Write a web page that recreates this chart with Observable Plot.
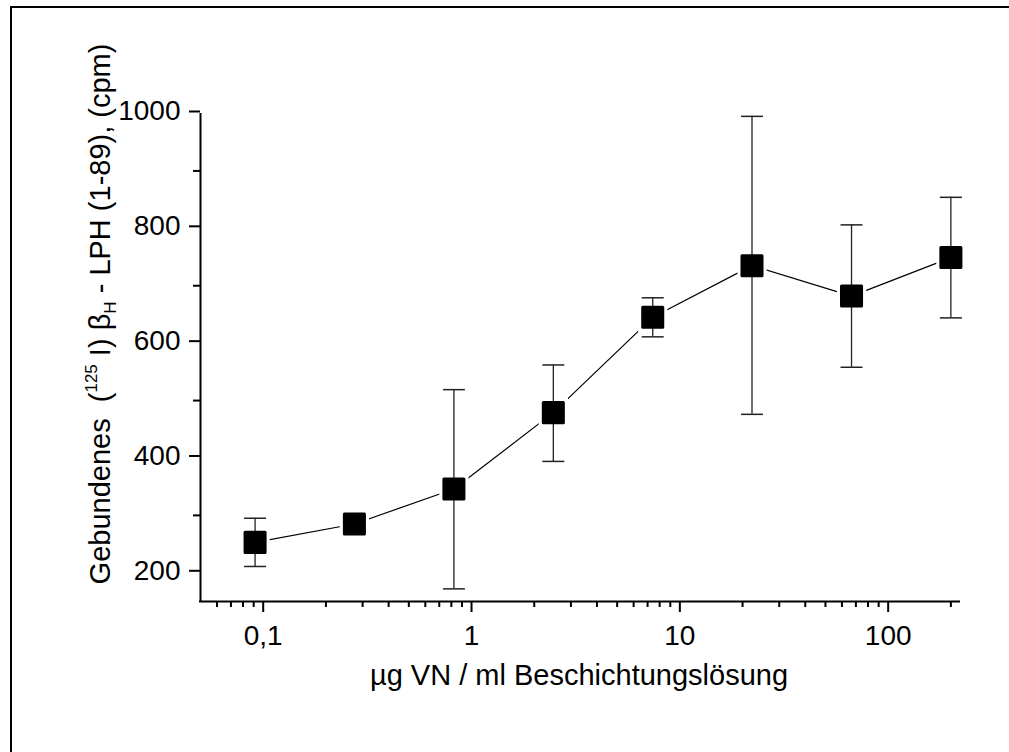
<!DOCTYPE html>
<html><head><meta charset="utf-8">
<script src="https://cdn.jsdelivr.net/npm/d3@7"></script>
<script src="https://cdn.jsdelivr.net/npm/@observablehq/plot@0.6"></script>
<style>html,body{margin:0;padding:0;background:#fff;overflow:hidden}</style>
</head><body><div id="chart"></div>
<script>
// µg VN / ml coating solution (3-fold dilution series)
const concentration = [0.0914, 0.274, 0.823, 2.47, 7.41, 22.2, 66.7, 200];
// bound (125I) beta_H-LPH (1-89), cpm
const bound   = [253, 285, 346, 479, 645, 735, 682, 749];
const errHigh = [295, 297, 519, 562, 679, 995, 806, 854];
const errLow  = [211, 273, 172, 394, 611, 476, 558, 644];

const xMajor = [0.1, 1, 10, 100];
const xMajorLabels = ["0,1", "1", "10", "100"];
const xMinor = [0.06, 0.07, 0.08, 0.09, 0.2, 0.3, 0.4, 0.5, 0.6, 0.7, 0.8, 0.9,
                2, 3, 4, 5, 6, 7, 8, 9, 20, 30, 40, 50, 60, 70, 80, 90, 200];
const yMajor = [200, 400, 600, 800, 1000];
const yMinor = [300, 500, 700, 900];

const xTitle = "µg VN / ml Beschichtungslösung";

const data = concentration.map((c, i) => ({c, v: bound[i], lo: errLow[i], hi: errHigh[i]}));
const capSymbol = {draw(ctx, size) { const r = Math.sqrt(size / Math.PI); ctx.moveTo(-r, 0); ctx.lineTo(r, 0); }};
const font = "'Liberation Sans', Arial, Helvetica, sans-serif";

const plot = Plot.plot({
  width: 1009, height: 752,
  marginLeft: 200, marginRight: 50, marginTop: 113, marginBottom: 151,
  style: {fontFamily: font, background: "white", color: "black", overflow: "visible"},
  x: {type: "log", domain: [0.05, 220]},
  y: {domain: [150, 1000]},
  marks: [
    Plot.axisY({ticks: yMajor, tickSize: 11, tickPadding: 9, tickFormat: d => String(d), fontSize: 28, label: null, strokeWidth: 2, dy: -2}),
    Plot.axisY({ticks: yMinor, tickSize: 7, tickFormat: () => "", label: null, strokeWidth: 2}),
    Plot.axisX({ticks: xMajor, tickSize: 11, tickPadding: 13, tickFormat: d => xMajorLabels[xMajor.indexOf(d)], fontSize: 28, label: null, strokeWidth: 2}),
    Plot.axisX({ticks: xMinor, tickSize: 6, tickFormat: () => "", label: null, strokeWidth: 2}),
    Plot.ruleX([0.05], {y1: 150, y2: 1000, stroke: "black", strokeWidth: 2}),
    Plot.ruleY([150], {x1: 0.05, x2: 220, stroke: "black", strokeWidth: 2, strokeLinecap: "square"}),
    Plot.line(data, {x: "c", y: "v", stroke: "black", strokeWidth: 1.2}),
    Plot.dot(data, {x: "c", y: "v", symbol: "square", r: 16.5, fill: "white"}),
    Plot.ruleX(data, {x: "c", y1: "lo", y2: "hi", stroke: "#222", strokeWidth: 1.3}),
    Plot.dot(data, {x: "c", y: "hi", symbol: capSymbol, r: 11, stroke: "#222", strokeWidth: 1.5, fill: "none"}),
    Plot.dot(data, {x: "c", y: "lo", symbol: capSymbol, r: 11, stroke: "#222", strokeWidth: 1.5, fill: "none"}),
    Plot.dot(data, {x: "c", y: "v", symbol: "square", r: 11.3, fill: "black", stroke: "black", strokeWidth: 3, strokeLinejoin: "round"})
  ]
});
document.getElementById("chart").appendChild(plot);

const svg = d3.select(plot);
// outer frame (left and top edges visible)
svg.append("line").attr("x1", 11).attr("y1", 7).attr("x2", 11).attr("y2", 760).attr("stroke", "black").attr("stroke-width", 2);
svg.append("line").attr("x1", 10).attr("y1", 7).attr("x2", 1020).attr("y2", 7).attr("stroke", "black").attr("stroke-width", 2);

// x axis title
svg.append("text").attr("x", 579).attr("y", 685).attr("text-anchor", "middle")
  .attr("font-family", font).attr("font-size", 29).attr("fill", "black").text(xTitle);

// y axis title with superscript/subscript
const yt = svg.append("text").attr("transform", "rotate(-90)")
  .attr("x", -314).attr("y", 110).attr("text-anchor", "middle")
  .attr("font-family", font).attr("font-size", 29).attr("fill", "black")
  .style("white-space", "pre");
yt.append("tspan").text("Gebundenes  (");
yt.append("tspan").attr("font-size", 17).attr("dy", -13).text("125");
yt.append("tspan").attr("dy", 13).text(" I) β");
yt.append("tspan").attr("font-size", 17).attr("dy", 6).text("H");
yt.append("tspan").attr("dy", -6).text(" - LPH (1-89), (cpm)");
</script>
</body></html>
